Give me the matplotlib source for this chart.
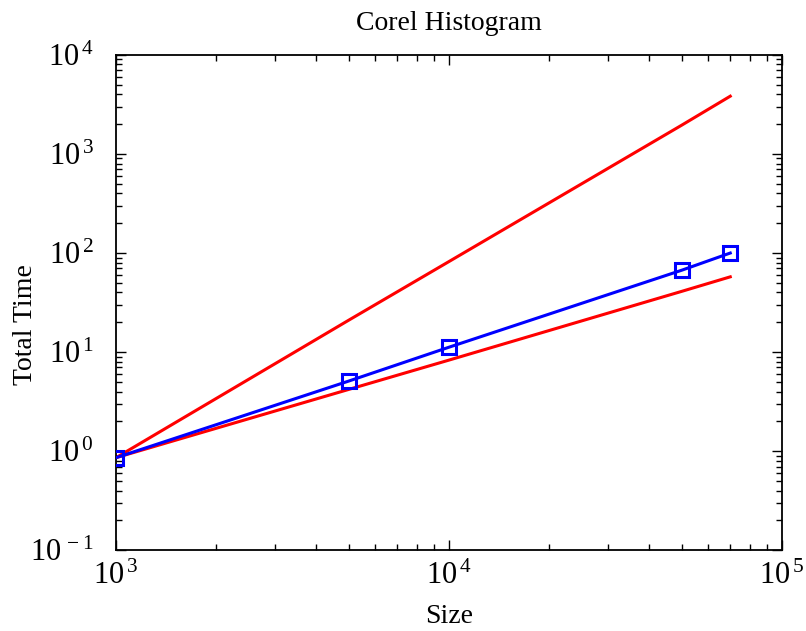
import numpy as np
import matplotlib
matplotlib.use("Agg")
import matplotlib.pyplot as plt
from matplotlib.ticker import LogLocator, FuncFormatter, NullFormatter

# data
sizes = [1000, 5000, 10000, 50000, 70000]
total_time = [0.86, 5.1, 11.2, 67, 100]
ref_linear = [0.86, 4.2, 8.3, 41, 57.5]
ref_quadratic = [0.86, 21, 82, 1950, 3830]

plt.rcParams["font.family"] = ["Liberation Serif", "DejaVu Serif"]
plt.rcParams["mathtext.fontset"] = "custom"
plt.rcParams["mathtext.rm"] = "Liberation Serif"
plt.rcParams["mathtext.it"] = "Liberation Serif"

fig = plt.figure(figsize=(8.06, 6.31), dpi=100)
ax = fig.add_axes([0.144, 0.128, 0.826, 0.785])

ax.plot(sizes, ref_quadratic, color="#ff0000", lw=2.2)
ax.plot(sizes, ref_linear, color="#ff0000", lw=2.2)
ax.plot(sizes, total_time, color="#0000ff", lw=2.2, marker="s", ms=10,
        mfc="none", mec="#0000ff", mew=2.2, zorder=3)

ax.set_xscale("log")
ax.set_yscale("log")
ax.set_xlim(1e3, 1e5)
ax.set_ylim(1e-1, 1e4)

fmt = FuncFormatter(lambda v, p: r"$\mathregular{10^{\,%d}}$" % int(round(np.log10(v))))
ax.xaxis.set_major_locator(LogLocator(base=10, numticks=10))
ax.yaxis.set_major_locator(LogLocator(base=10, numticks=10))
ax.xaxis.set_minor_locator(LogLocator(base=10, subs=np.arange(2, 10), numticks=20))
ax.yaxis.set_minor_locator(LogLocator(base=10, subs=np.arange(2, 10), numticks=20))
ax.xaxis.set_major_formatter(fmt)
ax.yaxis.set_major_formatter(fmt)
ax.xaxis.set_minor_formatter(NullFormatter())
ax.yaxis.set_minor_formatter(NullFormatter())

ax.tick_params(which="both", direction="in", top=True, right=True, width=1.0)
ax.tick_params(which="major", length=7, labelsize=22)
ax.tick_params(which="minor", length=4)
ax.tick_params(axis="x", which="major", pad=8)
ax.tick_params(axis="y", which="major", pad=16)
for s in ax.spines.values():
    s.set_linewidth(1.3)

ax.set_title("Corel Histogram", fontsize=20, pad=18)
ax.set_xlabel("Size", fontsize=20)
ax.set_ylabel("Total Time", fontsize=20)
ax.xaxis.set_label_coords(0.5, -0.108)
ax.yaxis.set_label_coords(-0.117, 0.455)

fig.savefig("out.png", dpi=100)
